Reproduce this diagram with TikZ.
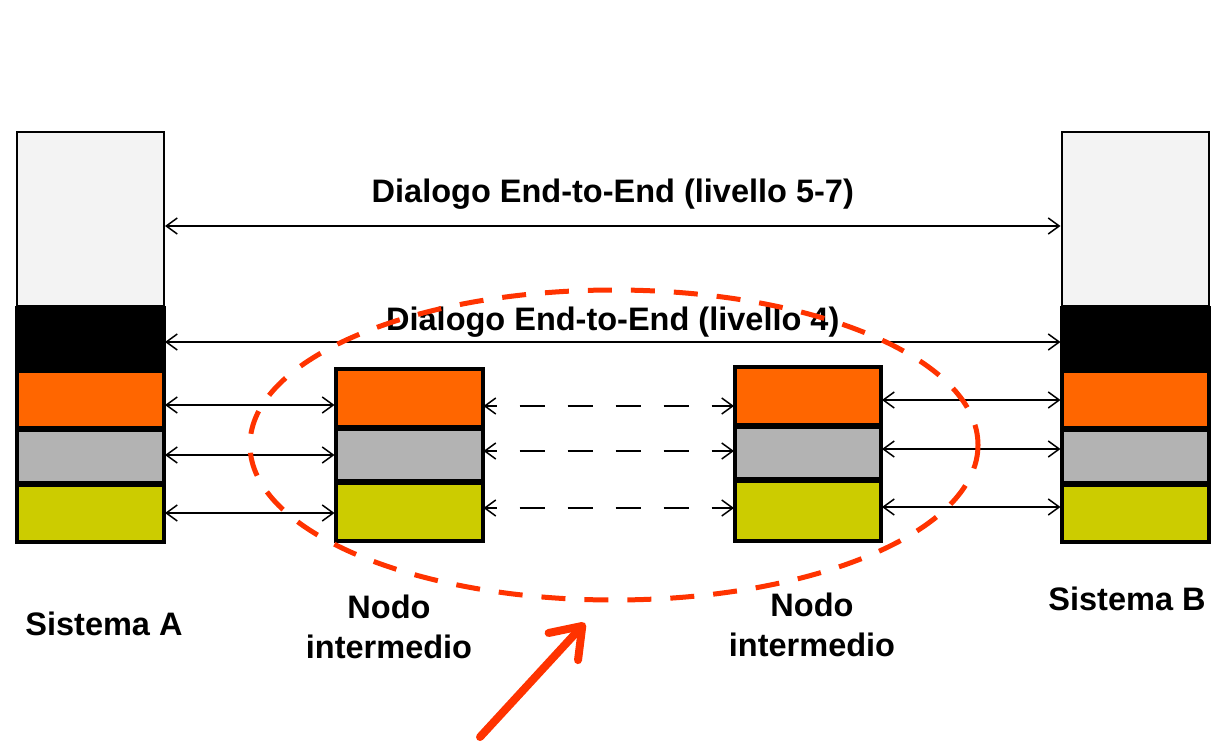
\documentclass[tikz,border=0pt]{standalone}
\usepackage{fontspec}
\setmainfont{Liberation Sans}
\usepackage{xcolor}
\usetikzlibrary{arrows.meta, positioning, calc}

\definecolor{livBianco}{HTML}{F3F3F3}
\definecolor{livArancio}{HTML}{FF6600}
\definecolor{livGrigio}{HTML}{B3B3B3}
\definecolor{livGiallo}{HTML}{CCCC00}
\definecolor{evidenza}{HTML}{FF3300}

\tikzset{
  livello/.style={draw=black, line width=4pt, outer sep=1pt, minimum width=147pt, inner sep=0pt},
  freccia/.style={line width=1.5pt, {Straight Barb[length=11pt, width=16pt]}-{Straight Barb[length=11pt, width=16pt]}},
  tratteggio/.style={dash pattern=on 25pt off 23pt, dash phase=14pt},
  etichetta/.style={font=\fontsize{32.5}{40}\selectfont\bfseries, align=center, inner sep=0pt}
}

\begin{document}
\begin{tikzpicture}[x=1pt, y=-1pt]
				\useasboundingbox (0,0) rectangle (1228,752);
				
				% Sistema A
				\node[livello, line width=2pt, fill=livBianco, minimum height=174pt, anchor=north] (A7) at (90.5,131) {};
				\node[livello, fill=black, minimum height=61pt, below=0pt of A7] (A4) {};
				\node[livello, fill=livArancio, minimum height=57pt, below=0pt of A4] (A3) {};
				\node[livello, fill=livGrigio, minimum height=53pt, below=0pt of A3] (A2) {};
				\node[livello, fill=livGiallo, minimum height=57pt, below=0pt of A2] (A1) {};
				
				% Sistema B
				\node[livello, line width=2pt, fill=livBianco, minimum height=174pt, anchor=north] (B7) at (1135,131) {};
				\node[livello, fill=black, minimum height=61pt, below=0pt of B7] (B4) {};
				\node[livello, fill=livArancio, minimum height=57pt, below=0pt of B4] (B3) {};
				\node[livello, fill=livGrigio, minimum height=53pt, below=0pt of B3] (B2) {};
				\node[livello, fill=livGiallo, minimum height=57pt, below=0pt of B2] (B1) {};
				
				% Nodi intermedi
				\node[livello, fill=livArancio, minimum height=58pt, anchor=north] (N3) at (409,368) {};
				\node[livello, fill=livGrigio, minimum height=52pt, below=0pt of N3] (N2) {};
				\node[livello, fill=livGiallo, minimum height=58pt, below=0pt of N2] (N1) {};
				
				\node[livello, minimum width=146pt, fill=livArancio, minimum height=58pt, anchor=north] (M3) at (808,366) {};
				\node[livello, minimum width=146pt, fill=livGrigio, minimum height=52pt, below=0pt of M3] (M2) {};
				\node[livello, minimum width=146pt, fill=livGiallo, minimum height=60pt, below=0pt of M2] (M1) {};
				
				% Dialoghi end-to-end
				\draw[freccia] ([yshift=-7pt]A7.east) -- node[etichetta, above=16pt] {Dialogo End-to-End (livello 5-7)} ([yshift=-7pt]A7.east -| B7.west);
				\draw[freccia] ([yshift=-3.5pt]A4.east) -- node[etichetta, above=4pt] {Dialogo End-to-End (livello 4)} ([yshift=-3.5pt]A4.east -| B4.west);
				
				% Dialoghi tra nodi adiacenti
				\draw[freccia] ([yshift=-5.5pt]A3.east) -- ([yshift=-5.5pt]A3.east -| N3.west);
				\draw[freccia] ([yshift=1.5pt]A2.east) -- ([yshift=1.5pt]A2.east -| N2.west);
				\draw[freccia] ([yshift=0.5pt]A1.east) -- ([yshift=0.5pt]A1.east -| N1.west);
				\draw[freccia] ([yshift=-4pt]M3.east) -- ([yshift=-4pt]M3.east -| B3.west);
				\draw[freccia] ([yshift=4pt]M2.east) -- ([yshift=4pt]M2.east -| B2.west);
				\draw[freccia] ([yshift=4pt]M1.east) -- ([yshift=4pt]M1.east -| B1.west);
				
				% Dialoghi tra i nodi intermedi
				\draw[freccia, tratteggio] ([yshift=-8pt]N3.east) -- ([yshift=-8pt]N3.east -| M3.west);
				\draw[freccia, tratteggio] ([yshift=4pt]N2.east) -- ([yshift=4pt]N2.east -| M2.west);
				\draw[freccia, tratteggio] ([yshift=4pt]N1.east) -- ([yshift=4pt]N1.east -| M1.west);
				
				% Ellisse tratteggiata
				\draw[evidenza, line width=5pt, dash pattern=on 24pt off 19pt] (614,445) ellipse [x radius=364, y radius=155];
				
				% Freccia rossa
				\coordinate (codaRossa) at (480,737);
				\coordinate (puntaRossa) at (585,623);
				\draw[evidenza, line width=8pt, line cap=round, -{Straight Barb[length=28pt, width=40pt, round]}] (codaRossa) -- (puntaRossa);
				
				% Etichette
				\node[etichetta] (etA) at (104,624) {Sistema A};
				\node[etichetta] (etB) at (1127,599) {Sistema B};
				\node[etichetta] (etN) at (389,627) {Nodo\\intermedio};
				\node[etichetta] (etM) at (812,625) {Nodo\\intermedio};
			\end{tikzpicture}
\end{document}
